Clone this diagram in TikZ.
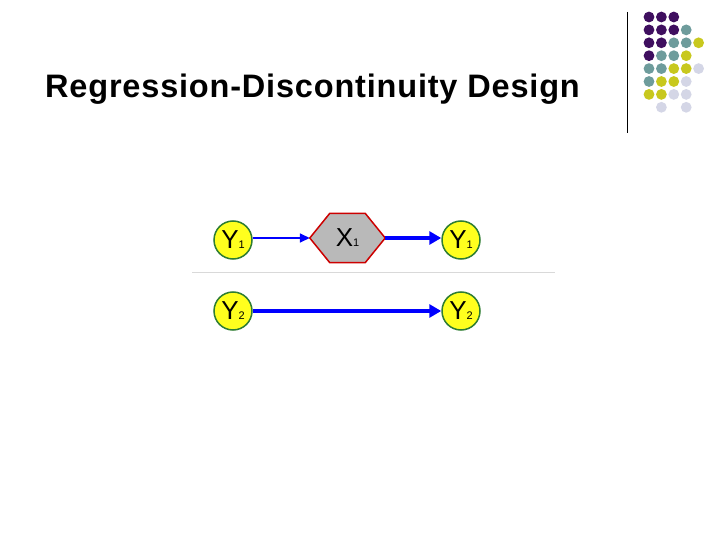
\documentclass[tikz,border=0pt]{standalone}
\usepackage{fontspec}
\setmainfont{Liberation Sans}
\usetikzlibrary{arrows.meta,calc}
\definecolor{dotP}{HTML}{3F0F5F}
\definecolor{dotT}{HTML}{6E9C9C}
\definecolor{dotY}{HTML}{C8C81E}
\definecolor{dotL}{HTML}{D4D6E6}
\definecolor{nodeY}{HTML}{FFFF1E}
\definecolor{edgeG}{HTML}{2E7D32}
\tikzset{
  ynode/.style={circle,draw=edgeG,line width=1.5pt,fill=nodeY,minimum size=38pt,inner sep=0pt,font=\fontsize{26}{26}\selectfont},
  thin arrow/.style={draw=blue,line width=1.5pt,-{Triangle[length=10pt,width=9pt]}},
  thick arrow/.style={draw=blue,line width=4pt,-{Triangle[length=12pt,width=13pt]}},
}
\newcommand{\lab}[2]{#1{\fontsize{11}{11}\selectfont #2}}
\begin{document}
\begin{tikzpicture}[x=1pt,y=-1pt]
  \useasboundingbox (0,0) rectangle (720,540);
  % title
  \node[anchor=west,inner sep=0pt,font=\bfseries\fontsize{32.5}{32.5}\selectfont\addfontfeature{LetterSpace=2.5}] (title) at (45,89) {Regression-Discontinuity Design};
  \draw[line width=0.8pt] (627,12) -- (627,133);
  % dots
  \foreach \row/\cols in {0/{P,P,P},1/{P,P,P,T},2/{P,P,T,T,Y},3/{P,T,T,Y},4/{T,T,Y,Y,L},5/{T,Y,Y,L},6/{Y,Y,L,L}}{
    \foreach \c [count=\i from 0] in \cols
      \fill[dot\c] (649+12.4*\i,17+12.9*\row) circle (5.4);
  }
  \fill[dotL] (661.4,107.3) circle (5.4);
  \fill[dotL] (686.2,107.3) circle (5.4);
  % diagram
  \node[ynode] (ya) at (233,240) {\lab{Y}{1}};
  \node[ynode] (yb) at (461,240) {\lab{Y}{1}};
  \node[ynode] (yc) at (233,311) {\lab{Y}{2}};
  \node[ynode] (yd) at (461,311) {\lab{Y}{2}};
  \node[minimum width=75pt,minimum height=49pt,inner sep=0pt] (x) at (347.5,238) {};
  \fill[gray!55,draw=red!80!black,line width=1.5pt] (x.west) -- ($(x.north west)+(20,0)$) -- ($(x.north east)+(-20,0)$) -- (x.east) -- ($(x.south east)+(-20,0)$) -- ($(x.south west)+(20,0)$) -- cycle;
  \node[font=\fontsize{26}{26}\selectfont] at (x) {\lab{X}{1}};
  \draw[gray!30,line width=0.8pt] (192,272) -- (555,272);
  \draw[thin arrow] (ya.east |- x.west) -- (x.west);
  \draw[thick arrow] (x.east) -- (yb.west |- x.east);
  \draw[thick arrow] (yc) -- (yd);
\end{tikzpicture}
\end{document}
